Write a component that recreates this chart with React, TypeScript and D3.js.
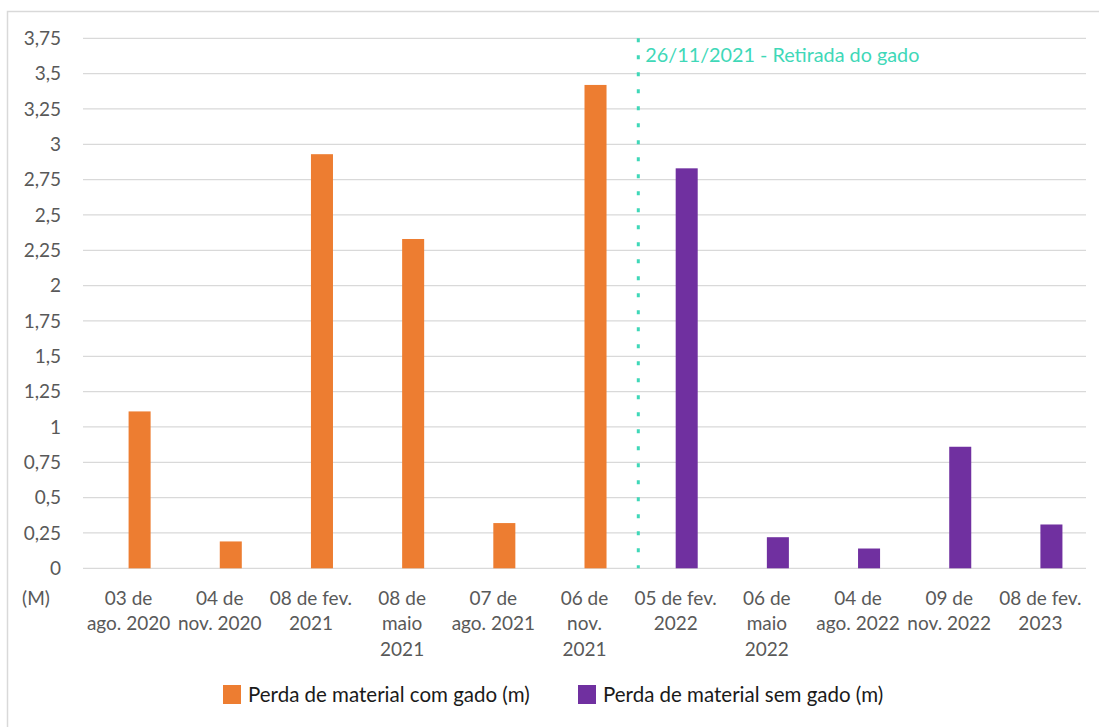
import React from "react";
import * as d3 from "d3";

const categories: string[][] = [
  ["03 de", "ago. 2020"],
  ["04 de", "nov. 2020"],
  ["08 de fev.", "2021"],
  ["08 de", "maio", "2021"],
  ["07 de", "ago. 2021"],
  ["06 de", "nov.", "2021"],
  ["05 de fev.", "2022"],
  ["06 de", "maio", "2022"],
  ["04 de", "ago. 2022"],
  ["09 de", "nov. 2022"],
  ["08 de fev.", "2023"],
];
const comGado: (number | null)[] = [1.11, 0.19, 2.93, 2.33, 0.32, 3.42, null, null, null, null, null];
const semGado: (number | null)[] = [null, null, null, null, null, null, 2.83, 0.22, 0.14, 0.86, 0.31];
const yTicks: number[] = [0, 0.25, 0.5, 0.75, 1, 1.25, 1.5, 1.75, 2, 2.25, 2.5, 2.75, 3, 3.25, 3.5, 3.75];
const seriesNames = ["Perda de material com gado (m)", "Perda de material sem gado (m)"];
const eventLabel = "26/11/2021 - Retirada do gado";

const W = 1099;
const H = 727;
const FONT = "Lato, 'Open Sans', sans-serif";
const ORANGE = "#ED7D31";
const PURPLE = "#7030A0";
const TEAL = "#3FD8B8";
const GRID = "#D9D9D9";
const TXT = "#595959";

export default function App() {
  const left = 83, right = 1086, top = 38.3, bottom = 568.3;
  const keys = categories.map((_, i) => String(i));
  const x = d3.scaleBand<string>().domain(keys).range([left, right]).padding(0);
  const slot = d3.scaleBand<string>().domain(["a", "b"]).range([0, x.bandwidth()]).paddingInner(0).paddingOuter(1.07);
  const y = d3.scaleLinear().domain([0, 3.75]).range([bottom, top]);
  const fmt = (v: number) => String(v).replace(".", ",");
  const bars: { i: number; v: number; c: string }[] = [];
  comGado.forEach((v, i) => { if (v != null) bars.push({ i, v, c: ORANGE }); });
  semGado.forEach((v, i) => { if (v != null) bars.push({ i, v, c: PURPLE }); });
  const lineX = (x("6") as number) + x.bandwidth() * 0.09;

  return (
    <svg width={W} height={H} style={{ position: "absolute", left: 0, top: 0, background: "#fff" }} fontFamily={FONT}>
      <rect x={7.5} y={11.5} width={W} height={H} fill="#fff" stroke={GRID} strokeWidth={1.5} />
      {yTicks.map((t) => (
        <g key={t}>
          <line x1={left} x2={right} y1={y(t)} y2={y(t)} stroke={GRID} strokeWidth={1.3} />
          <text x={61} y={y(t)} dy="0.35em" textAnchor="end" fontSize={19} fill={TXT}>{fmt(t)}</text>
        </g>
      ))}
      {bars.map((b) => (
        <rect key={b.i} x={(x(String(b.i)) as number) + (slot("b") as number)} width={slot.bandwidth()} y={y(b.v)} height={y(0) - y(b.v)} fill={b.c} />
      ))}
      <line x1={lineX} x2={lineX} y1={top} y2={bottom} stroke={TEAL} strokeWidth={3} strokeDasharray="4 13" />
      <text x={lineX + 7} y={55} dy="0.35em" fontSize={19.8} fill={TEAL}>{eventLabel}</text>
      <text x={36} y={598} dy="0.35em" textAnchor="middle" fontSize={19} fill={TXT}>(M)</text>
      {categories.map((lines, i) => (
        <text key={i} x={(x(String(i)) as number) + x.bandwidth() / 2} y={598} textAnchor="middle" fontSize={19} fill={TXT}>
          {lines.map((l, j) => (
            <tspan key={j} x={(x(String(i)) as number) + x.bandwidth() / 2} y={598 + j * 25.5} dy="0.35em">{l}</tspan>
          ))}
        </text>
      ))}
      <g>
        <rect x={223} y={685} width={18} height={19} fill={ORANGE} />
        <text x={248} y={695} dy="0.35em" fontSize={20.5} fill="#1a1a1a">{seriesNames[0]}</text>
        <rect x={578} y={685} width={18} height={19} fill={PURPLE} />
        <text x={603} y={695} dy="0.35em" fontSize={20.5} fill="#1a1a1a">{seriesNames[1]}</text>
      </g>
    </svg>
  );
}
